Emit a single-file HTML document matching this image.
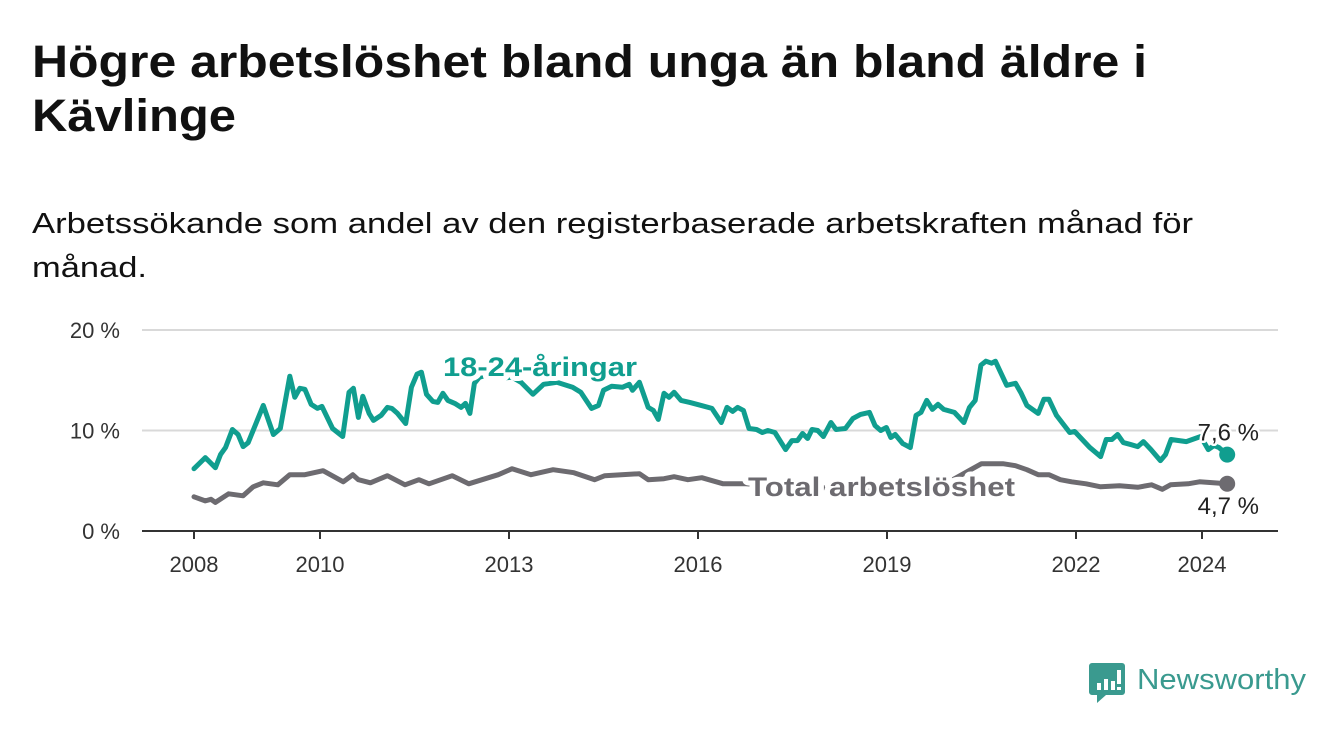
<!DOCTYPE html>
<html><head><meta charset="utf-8"><style>
html,body{margin:0;padding:0;background:#fff;}
svg{display:block;font-family:"Liberation Sans",sans-serif;}
</style></head><body>
<svg width="1340" height="734" viewBox="0 0 1340 734">
<text x="32" y="77" font-size="45" font-weight="bold" fill="#111" textLength="1115" lengthAdjust="spacingAndGlyphs">Högre arbetslöshet bland unga än bland äldre i</text>
<text x="32" y="131" font-size="45" font-weight="bold" fill="#111" textLength="204" lengthAdjust="spacingAndGlyphs">Kävlinge</text>
<text x="32" y="233" font-size="29" fill="#111" textLength="1161" lengthAdjust="spacingAndGlyphs">Arbetssökande som andel av den registerbaserade arbetskraften månad för</text>
<text x="32" y="277" font-size="29" fill="#111" textLength="115" lengthAdjust="spacingAndGlyphs">månad.</text>
<g id="plot"></g>
<g>
<path d="M1092 663 h30 a3 3 0 0 1 3 3 v26 a3 3 0 0 1 -3 3 h-16 l-9 8 v-8 h-5 a3 3 0 0 1 -3 -3 v-26 a3 3 0 0 1 3 -3z" fill="#3a9a8f"/>
<rect x="1097" y="683" width="4" height="7" fill="#fff"/><rect x="1104" y="679" width="4" height="11" fill="#fff"/><rect x="1111" y="681" width="4" height="9" fill="#fff"/><rect x="1117" y="670" width="4" height="14" fill="#fff"/><rect x="1117" y="687" width="4" height="3" fill="#fff"/>
<text x="1137" y="689" font-size="29" fill="#3a9a8f" textLength="169" lengthAdjust="spacingAndGlyphs">Newsworthy</text>
</g>
</svg>
<script>
const yTicks = [0, 10, 20];
const yTickLabels = ["0 %", "10 %", "20 %"];
const xTicks = [2008, 2010, 2013, 2016, 2019, 2022, 2024];
const youthDates = [2008.0,2008.18,2008.34,2008.42,2008.5,2008.61,2008.7,2008.78,2008.86,2009.1,2009.26,2009.37,2009.52,2009.6,2009.68,2009.76,2009.86,2009.96,2010.03,2010.2,2010.36,2010.46,2010.53,2010.61,2010.68,2010.78,2010.85,2010.97,2011.07,2011.14,2011.23,2011.36,2011.45,2011.54,2011.61,2011.69,2011.79,2011.87,2011.95,2012.03,2012.14,2012.24,2012.31,2012.38,2012.45,2012.53,2012.7,2012.9,2013.05,2013.19,2013.38,2013.55,2013.76,2014.01,2014.14,2014.31,2014.42,2014.5,2014.63,2014.8,2014.91,2014.96,2015.07,2015.21,2015.29,2015.37,2015.46,2015.54,2015.62,2015.73,2015.87,2016.05,2016.22,2016.37,2016.46,2016.55,2016.63,2016.72,2016.81,2016.93,2017.02,2017.11,2017.22,2017.39,2017.49,2017.58,2017.66,2017.74,2017.81,2017.9,2017.99,2018.11,2018.19,2018.34,2018.46,2018.58,2018.72,2018.81,2018.9,2018.99,2019.06,2019.13,2019.25,2019.37,2019.46,2019.54,2019.63,2019.72,2019.81,2019.9,2020.07,2020.22,2020.31,2020.4,2020.49,2020.57,2020.66,2020.72,2020.81,2020.9,2021.04,2021.13,2021.22,2021.4,2021.49,2021.57,2021.69,2021.9,2021.98,2022.22,2022.39,2022.48,2022.57,2022.66,2022.75,2022.87,2022.98,2023.07,2023.19,2023.34,2023.42,2023.51,2023.75,2023.98,2024.1,2024.19,2024.27,2024.4];
const youthValues = [6.2,7.3,6.3,7.6,8.3,10.1,9.6,8.4,8.8,12.5,9.6,10.2,15.4,13.3,14.2,14.1,12.6,12.2,12.4,10.2,9.4,13.8,14.2,11.3,13.4,11.7,11.0,11.5,12.3,12.2,11.7,10.7,14.3,15.6,15.8,13.6,12.9,12.8,13.7,13.0,12.7,12.3,12.7,11.7,14.7,15.3,15.6,15.2,15.3,14.8,13.6,14.6,14.8,14.3,13.8,12.2,12.5,14.0,14.4,14.3,14.6,14.0,14.8,12.3,12.0,11.1,13.7,13.3,13.8,13.0,12.8,12.5,12.2,10.8,12.3,11.9,12.3,12.0,10.2,10.1,9.8,10.0,9.8,8.1,9.0,9.0,9.7,9.2,10.1,10.0,9.4,10.8,10.1,10.2,11.2,11.6,11.8,10.5,10.0,10.3,9.3,9.6,8.7,8.3,11.5,11.8,13.0,12.1,12.6,12.1,11.8,10.8,12.3,13.0,16.5,16.9,16.7,16.9,15.7,14.5,14.7,13.7,12.5,11.7,13.1,13.1,11.5,9.8,9.9,8.3,7.4,9.1,9.1,9.6,8.8,8.6,8.4,8.9,8.1,7.0,7.6,9.1,8.9,9.4,8.1,8.5,8.3,7.6];
const totalDates = [2008.0,2008.18,2008.27,2008.34,2008.55,2008.78,2008.94,2009.1,2009.33,2009.52,2009.76,2010.05,2010.37,2010.52,2010.61,2010.8,2011.07,2011.35,2011.57,2011.73,2012.1,2012.36,2012.83,2013.05,2013.35,2013.7,2014.03,2014.36,2014.52,2015.07,2015.21,2015.46,2015.62,2015.84,2016.06,2016.4,2016.76,2017.2,2018.0,2019.0,2019.9,2020.3,2020.5,2020.84,2021.04,2021.22,2021.4,2021.57,2021.75,2021.93,2022.16,2022.39,2022.69,2022.98,2023.2,2023.37,2023.5,2023.78,2023.96,2024.4];
const totalValues = [3.4,3.0,3.15,2.85,3.7,3.5,4.4,4.8,4.6,5.6,5.6,6.0,4.9,5.6,5.1,4.8,5.5,4.6,5.1,4.7,5.5,4.7,5.6,6.2,5.6,6.1,5.8,5.1,5.5,5.7,5.1,5.2,5.4,5.1,5.3,4.7,4.7,4.5,4.3,4.2,4.6,6.0,6.7,6.7,6.5,6.1,5.6,5.6,5.1,4.9,4.7,4.4,4.5,4.35,4.6,4.15,4.6,4.7,4.9,4.7];
const youthLastLabel = "7,6 %";
const totalLastLabel = "4,7 %";

const NS = "http://www.w3.org/2000/svg";
const plot = document.getElementById("plot");
const X0 = 142, X1 = 1278;
function xs(t){ return 194 + (t - 2008) * 63; }
function ys(v){ return 531 - v * 10.05; }
function mk(tag, attrs){ const e = document.createElementNS(NS, tag); for (const k in attrs) e.setAttribute(k, attrs[k]); plot.appendChild(e); return e; }

yTicks.forEach((v, i) => {
  if (v > 0) {
    const g = mk("line", {x1:X0, x2:X1, y1:ys(v), y2:ys(v), stroke:"#d9d9d9", "stroke-width":2});
    
    
  }
  const t = mk("text", {x:120, y:ys(v)+8, "text-anchor":"end", "font-size":22, fill:"#333"});
  t.textContent = yTickLabels[i];
  
  
});
const ax = mk("line", {x1:X0, x2:X1, y1:531, y2:531, stroke:"#333", "stroke-width":2});


xTicks.forEach(yr => {
  const tk = mk("line", {x1:xs(yr), x2:xs(yr), y1:531, y2:539, stroke:"#333", "stroke-width":2});
  
  
  const t = mk("text", {x:xs(yr), y:572, "text-anchor":"middle", "font-size":22, fill:"#333"});
  t.textContent = yr;
  
  
});

function series(dates, vals, color, name){
  const d = dates.map((t, i) => (i ? "L" : "M") + xs(t).toFixed(1) + " " + ys(vals[i]).toFixed(1)).join(" ");
  const p = mk("path", {d:d, fill:"none", stroke:color, "stroke-width":5, "stroke-linejoin":"round", "stroke-linecap":"round"});
  
  
  const n = dates.length - 1;
  const c = mk("circle", {cx:xs(dates[n]), cy:ys(vals[n]), r:8, fill:color});
  
  
}
series(totalDates, totalValues, "#6d6b70", "total");
series(youthDates, youthValues, "#109e8f", "youth");

function label(txt, x, y, color, anchor, size, bold, name, len){
  const attrs = {x:x, y:y, "text-anchor":anchor, "font-size":size, fill:color, "font-weight":bold ? "bold" : "normal", stroke:"#fff", "stroke-width":bold ? 10 : 5, "paint-order":"stroke", "stroke-linejoin":"round"};
  if (len) { attrs.textLength = len; attrs.lengthAdjust = "spacingAndGlyphs"; }
  const t = mk("text", attrs);
  t.textContent = txt;
  
  
}
label("18-24-åringar", 443, 376, "#109e8f", "start", 27, true, "youth-series-label", 194);
label("Total arbetslöshet", 748, 496, "#6d6b70", "start", 27, true, "total-series-label", 267);
const nY = youthDates.length - 1, nT = totalDates.length - 1;
label(youthLastLabel, 1259, ys(youthValues[nY]) - 14, "#222", "end", 24, false, "youth-last-value");
label(totalLastLabel, 1259, ys(totalValues[nT]) + 30, "#222", "end", 24, false, "total-last-value");
</script>
</body></html>
